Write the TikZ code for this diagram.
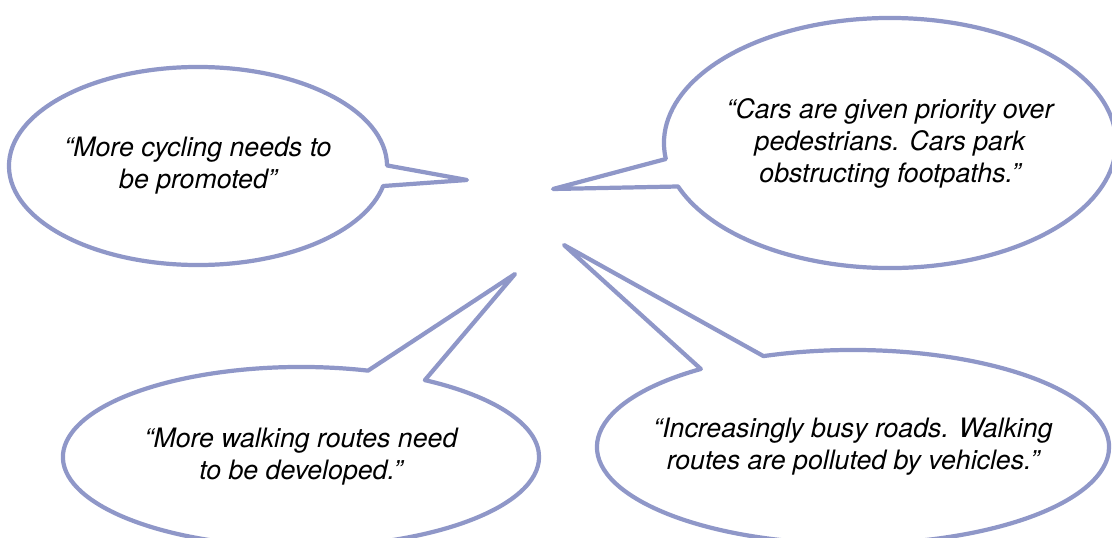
\documentclass[tikz,border=0pt]{standalone}
\usepackage{fontspec}
\setmainfont{TeX Gyre Heros}
\usetikzlibrary{shapes.callouts}
\definecolor{lavande}{RGB}{143,151,200}
\tikzset{bulle/.style={ellipse callout,draw=lavande,line width=3pt,fill=white,
    line join=round,align=center,inner xsep=-0.6cm,inner ysep=0pt,
    font=\itshape\fontsize{19}{22.8}\selectfont}}

\begin{document}
\begin{tikzpicture}[x=0.025cm,y=-0.025cm]
\useasboundingbox (0,0) rectangle (1112,538);

% pointes des bulles
\coordinate (P1) at (467,180);
\coordinate (P2) at (553,189);
\coordinate (P3) at (515,274);
\coordinate (P4) at (564,245);

\node[bulle,minimum width=9.45cm,minimum height=4.95cm,
    callout absolute pointer={(P1)},callout pointer arc=12] (velo) at (198,166)
    {“More cycling needs to\\be promoted”};
\node[bulle,minimum width=11.3cm,minimum height=6.25cm,
    callout absolute pointer={(P2)},callout pointer arc=13] (voitures) at (890,143)
    {“Cars are given priority over\\pedestrians. Cars park\\obstructing footpaths.”};
\node[bulle,minimum width=11.9cm,minimum height=4.5cm,
    callout absolute pointer={(P3)},callout pointer arc=15] (marche) at (301,457)
    {“More walking routes need\\to be developed.”};
\node[bulle,minimum width=12.8cm,minimum height=4.85cm,
    callout absolute pointer={(P4)},callout pointer arc=16] (routes) at (853,447)
    {“Increasingly busy roads. Walking\\routes are polluted by vehicles.”};

\end{tikzpicture}
\end{document}
